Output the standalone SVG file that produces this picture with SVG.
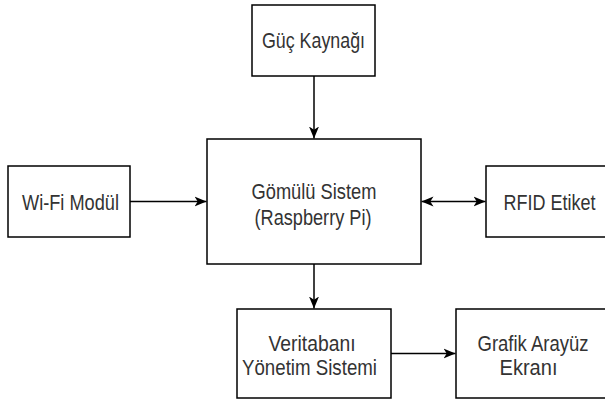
<svg xmlns="http://www.w3.org/2000/svg" width="605" height="401" viewBox="0 0 605 401">
<style>
.box{fill:#ffffff;stroke:#000000;stroke-width:1.5}
.lbl{font-family:"Liberation Sans",Arial,sans-serif;font-size:22.5px;fill:#333333;text-anchor:middle}
.edge{stroke:#000000;stroke-width:1.5;fill:none}
</style>
<defs>
<marker id="arr" viewBox="0 0 12 11" refX="12" refY="5.5" markerWidth="12" markerHeight="11" markerUnits="userSpaceOnUse" orient="auto-start-reverse">
<path d="M0,0.5 L12,5.5 L0,10.5 L3.2,5.5 Z" fill="#000000"/>
</marker>
</defs>
<rect width="605" height="401" fill="#ffffff"/>
<g id="connectors">
<line class="edge" x1="314" y1="76" x2="314" y2="138.5" marker-end="url(#arr)"/>
<line class="edge" x1="130" y1="201.5" x2="206.5" y2="201.5" marker-end="url(#arr)"/>
<line class="edge" x1="421.5" y1="201.5" x2="485.5" y2="201.5" marker-start="url(#arr)" marker-end="url(#arr)"/>
<line class="edge" x1="314" y1="264" x2="314" y2="308.5" marker-end="url(#arr)"/>
<line class="edge" x1="391" y1="353.5" x2="455.5" y2="353.5" marker-end="url(#arr)"/>
</g>
<g id="guc-kaynagi">
<rect class="box" x="252" y="5" width="123" height="71"/>
<text class="lbl" x="313.5" y="47.5" textLength="103" lengthAdjust="spacingAndGlyphs">Güç Kaynağı</text>
</g>
<g id="gomulu-sistem">
<rect class="box" x="207" y="139" width="214" height="125"/>
<text class="lbl" x="314" y="198.5" textLength="125" lengthAdjust="spacingAndGlyphs">Gömülü Sistem</text>
<text class="lbl" x="313" y="224.5" textLength="117" lengthAdjust="spacingAndGlyphs">(Raspberry Pi)</text>
</g>
<g id="wifi-modul">
<rect class="box" x="8" y="166" width="122" height="71"/>
<text class="lbl" x="70.5" y="209.5" textLength="97" lengthAdjust="spacingAndGlyphs">Wi-Fi Modül</text>
</g>
<g id="rfid-etiket">
<rect class="box" x="486" y="166" width="120" height="71"/>
<text class="lbl" x="549.5" y="209.5" textLength="92" lengthAdjust="spacingAndGlyphs">RFID Etiket</text>
</g>
<g id="veritabani">
<rect class="box" x="237" y="309" width="154" height="89"/>
<text class="lbl" x="312" y="350.5" textLength="87" lengthAdjust="spacingAndGlyphs">Veritabanı</text>
<text class="lbl" x="309.5" y="375" textLength="135" lengthAdjust="spacingAndGlyphs">Yönetim Sistemi</text>
</g>
<g id="grafik-arayuz">
<rect class="box" x="456" y="309" width="150" height="89"/>
<text class="lbl" x="533" y="350.5" textLength="111" lengthAdjust="spacingAndGlyphs">Grafik Arayüz</text>
<text class="lbl" x="528.5" y="375" textLength="58" lengthAdjust="spacingAndGlyphs">Ekranı</text>
</g>
</svg>
